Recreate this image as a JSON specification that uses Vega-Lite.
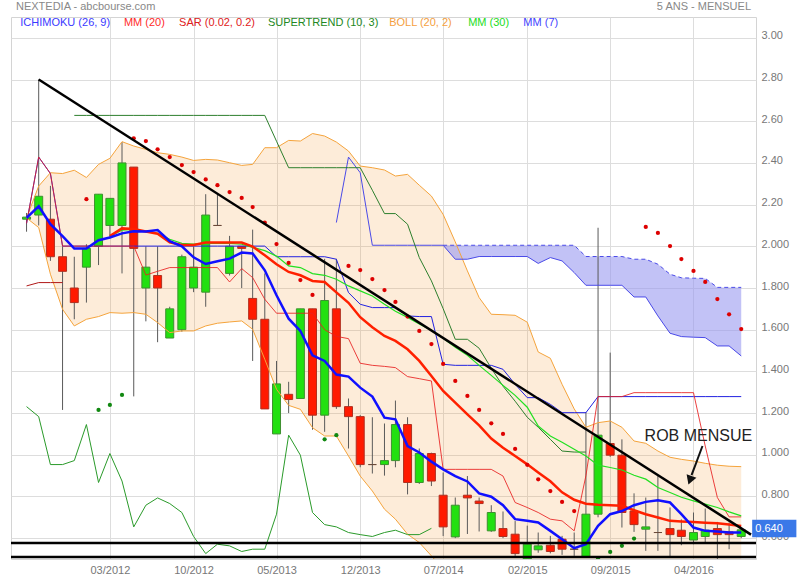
{
"$schema": "https://vega.github.io/schema/vega-lite/v6.json",
"width": 745, "height": 542,
"autosize": {"type": "none"},
"padding": {"left": 11, "top": 17, "right": 44, "bottom": 21},
"background": "white",
"config": {"font": "Liberation Sans", "view": {"stroke": "#d4d4d4", "strokeWidth": 1}},
"datasets": {
"m": [
{"d":"2011-08-01","o":2.13,"h":2.16,"l":2.07,"c":2.14,"bu":2.136,"bl":2.136,"m7":2.136,"tk":2.11,"kj":2.11,"ck":1.231,"s1":1.81},
{"d":"2011-09-01","o":2.15,"h":2.80,"l":2.10,"c":2.24,"bu":2.289,"bl":2.09,"m7":2.192,"tk":2.428,"kj":2.428,"ck":1.183,"s1":1.826},
{"d":"2011-10-01","o":2.13,"h":2.29,"l":1.93,"c":1.95,"bu":2.353,"bl":1.866,"m7":2.106,"tk":2.349,"kj":2.349,"ck":0.953,"s1":1.826},
{"d":"2011-11-01","o":1.95,"h":2.00,"l":1.215,"c":1.88,"bu":2.349,"bl":1.698,"m7":2.049,"tk":2.001,"kj":2.001,"ck":0.953,"s1":1.826},
{"d":"2011-12-01","o":1.80,"h":1.95,"l":1.65,"c":1.73,"bu":2.365,"bl":1.618,"m7":1.989,"tk":2.001,"kj":2.001,"ck":0.972,"s2":2.628},
{"d":"2012-01-01","o":1.90,"h":2.01,"l":1.73,"c":1.99,"bu":2.33,"bl":1.65,"m7":1.989,"tk":2.001,"kj":2.001,"ck":1.145,"s2":2.628,"sr":2.226},
{"d":"2012-02-01","o":2.00,"h":2.25,"l":1.91,"c":2.25,"bu":2.393,"bl":1.663,"m7":2.029,"tk":2.001,"kj":2.001,"ck":0.867,"s2":2.628,"sg":1.215},
{"d":"2012-03-01","o":2.10,"h":2.23,"l":2.04,"c":2.23,"bu":2.422,"bl":1.682,"m7":2.042,"m20":2.049,"m30":2.049,"tk":2.001,"kj":2.001,"ck":1.006,"s2":2.628,"sg":1.239},
{"d":"2012-04-01","o":2.10,"h":2.50,"l":1.87,"c":2.40,"bu":2.502,"bl":1.679,"m7":2.062,"m20":2.086,"m30":2.077,"tk":2.001,"kj":2.001,"ck":0.874,"s2":2.628,"sg":1.287},
{"d":"2012-05-01","o":2.38,"h":2.38,"l":1.28,"c":1.99,"bu":2.481,"bl":1.682,"m7":2.072,"m20":2.083,"m30":2.081,"tk":2.001,"kj":2.001,"ck":0.654,"s2":2.628,"sr":2.518},
{"d":"2012-06-01","o":1.80,"h":2.00,"l":1.64,"c":1.90,"bu":2.465,"bl":1.674,"m7":2.071,"m20":2.071,"m30":2.072,"tk":1.862,"kj":2.001,"ck":0.758,"s2":2.628,"sr":2.505},
{"d":"2012-07-01","o":1.86,"h":2.00,"l":1.54,"c":1.80,"bu":2.449,"bl":1.634,"m7":2.078,"m20":2.06,"m30":2.062,"tk":1.88,"kj":2.001,"ck":0.793,"s2":2.628,"sr":2.465},
{"d":"2012-08-01","o":1.56,"h":1.71,"l":1.56,"c":1.70,"bu":2.441,"bl":1.586,"m7":2.025,"m20":2.019,"m30":2.034,"tk":1.898,"kj":2.001,"ck":0.766,"s2":2.628,"sr":2.428},
{"d":"2012-09-01","o":1.60,"h":1.96,"l":1.59,"c":1.95,"bu":2.428,"bl":1.594,"m7":2.0,"m20":2.006,"m30":2.014,"tk":1.898,"kj":2.001,"ck":0.723,"s2":2.628,"sr":2.39},
{"d":"2012-10-01","o":1.80,"h":2.00,"l":1.78,"c":1.90,"bu":2.412,"bl":1.594,"m7":1.947,"m20":2.006,"m30":2.01,"tk":1.898,"kj":2.001,"ck":0.608,"s2":2.628,"sr":2.356},
{"d":"2012-11-01","o":1.78,"h":2.25,"l":1.71,"c":2.15,"bu":2.417,"bl":1.618,"m7":1.915,"m20":2.018,"m30":2.014,"tk":1.898,"kj":2.001,"ck":0.526,"s2":2.628,"sr":2.321},
{"d":"2012-12-01","o":2.10,"h":2.25,"l":2.10,"c":2.10,"bu":2.414,"bl":1.631,"m7":1.928,"m20":2.018,"m30":2.014,"tk":1.898,"kj":2.001,"ck":0.571,"s2":2.628,"sr":2.293},
{"d":"2013-01-01","o":1.87,"h":2.05,"l":1.86,"c":2.00,"bu":2.401,"bl":1.637,"m7":1.941,"m20":2.018,"m30":2.014,"tk":1.829,"kj":2.001,"ck":0.563,"s2":2.628,"sr":2.26},
{"d":"2013-02-01","o":2.00,"h":2.00,"l":1.80,"c":1.99,"bu":2.388,"bl":1.642,"m7":1.97,"m20":2.018,"m30":2.01,"tk":1.893,"kj":2.001,"ck":0.536,"s2":2.628,"sr":2.232},
{"d":"2013-03-01","o":1.75,"h":2.08,"l":1.45,"c":1.65,"bu":2.393,"bl":1.602,"m7":1.966,"m20":1.999,"m30":1.995,"tk":1.85,"kj":2.001,"ck":0.547,"s2":2.628,"sr":2.188},
{"d":"2013-04-01","o":1.65,"h":1.87,"l":1.22,"c":1.22,"bu":2.473,"bl":1.458,"m7":1.885,"m20":1.957,"m30":1.979,"tk":1.746,"kj":2.001,"ck":0.547,"s2":2.628,"sr":2.114},
{"d":"2013-05-01","o":1.10,"h":1.45,"l":1.10,"c":1.34,"bu":2.473,"bl":1.314,"m7":1.765,"m20":1.914,"m30":1.953,"tk":1.679,"kj":1.95,"ck":0.715,"s2":2.504,"sr":2.011},
{"d":"2013-06-01","o":1.29,"h":1.35,"l":1.20,"c":1.265,"bu":2.508,"bl":1.237,"m7":1.653,"m20":1.877,"m30":1.906,"tk":1.679,"kj":1.95,"ck":1.094,"s2":2.377,"sr":1.92},
{"d":"2013-07-01","o":1.27,"h":1.70,"l":1.27,"c":1.70,"bu":2.505,"bl":1.218,"m7":1.594,"m20":1.861,"m30":1.898,"tk":1.679,"kj":1.95,"ck":0.998,"s2":2.377,"sr":1.838},
{"d":"2013-08-01","o":1.70,"h":1.70,"l":1.12,"c":1.19,"bu":2.541,"bl":1.13,"m7":1.477,"m20":1.834,"m30":1.869,"tk":1.679,"kj":1.95,"ck":0.723,"s2":2.377,"sr":1.767},
{"d":"2013-09-01","o":1.19,"h":1.94,"l":1.11,"c":1.74,"bu":2.529,"bl":1.09,"m7":1.45,"m20":1.829,"m30":1.861,"tk":1.60,"kj":1.95,"ck":0.665,"s2":2.377,"sg":1.074},
{"d":"2013-10-01","o":1.70,"h":1.94,"l":1.22,"c":1.231,"bu":2.5,"bl":1.09,"m7":1.385,"m20":1.779,"m30":1.842,"tk":1.568,"kj":1.938,"ck":0.654,"sb":2.114,"s2":2.377,"sg":1.094},
{"d":"2013-11-01","o":1.231,"h":1.27,"l":1.03,"c":1.183,"bu":2.457,"bl":0.994,"m7":1.375,"m20":1.729,"m30":1.81,"tk":1.557,"kj":1.778,"ck":0.627,"sb":2.428,"s2":2.377,"sr":1.906},
{"d":"2013-12-01","o":1.183,"h":1.19,"l":0.94,"c":0.953,"bu":2.385,"bl":0.898,"m7":1.322,"m20":1.66,"m30":1.786,"tk":1.439,"kj":1.722,"ck":0.617,"sb":2.353,"s2":2.377,"sr":1.886},
{"d":"2014-01-01","o":0.953,"h":1.18,"l":0.91,"c":0.953,"bu":2.377,"bl":0.826,"m7":1.279,"m20":1.612,"m30":1.762,"tk":1.429,"kj":1.706,"ck":0.608,"sb":2.005,"s2":2.269,"sr":1.843},
{"d":"2014-02-01","o":0.953,"h":1.15,"l":0.90,"c":0.972,"bu":2.366,"bl":0.739,"m7":1.178,"m20":1.57,"m30":1.722,"tk":1.424,"kj":1.706,"ck":0.627,"sb":2.005,"s2":2.157,"sr":1.79},
{"d":"2014-03-01","o":0.972,"h":1.26,"l":0.94,"c":1.145,"bu":2.337,"bl":0.691,"m7":1.17,"m20":1.546,"m30":1.688,"tk":1.418,"kj":1.706,"ck":0.638,"sb":2.005,"s2":2.157,"sr":1.733},
{"d":"2014-04-01","o":1.145,"h":1.18,"l":0.81,"c":0.867,"bu":2.345,"bl":0.619,"m7":1.042,"m20":1.506,"m30":1.659,"tk":1.375,"kj":1.666,"ck":0.617,"sb":2.005,"s2":2.106,"sr":1.663},
{"d":"2014-05-01","o":0.867,"h":1.03,"l":0.86,"c":1.006,"bu":2.293,"bl":0.579,"m7":1.011,"m20":1.45,"m30":1.628,"tk":1.365,"kj":1.663,"ck":0.617,"sb":2.005,"s2":1.946,"sr":1.594},
{"d":"2014-06-01","o":1.006,"h":1.01,"l":0.85,"c":0.874,"bu":2.241,"bl":0.515,"m7":0.967,"m20":1.378,"m30":1.597,"tk":1.354,"kj":1.663,"ck":0.647,"sb":2.005,"s2":1.834,"sr":1.531},
{"d":"2014-07-01","o":0.806,"h":0.915,"l":0.61,"c":0.654,"bu":2.153,"bl":0.451,"m7":0.93,"m20":1.306,"m30":1.559,"tk":0.93,"kj":1.434,"sa":2.005,"sb":2.005,"s2":1.701,"sr":1.436},
{"d":"2014-08-01","o":0.606,"h":0.795,"l":0.60,"c":0.758,"bu":2.021,"bl":0.40,"m7":0.898,"m20":1.25,"m30":1.516,"tk":0.93,"kj":1.429,"sa":2.005,"sb":1.938,"s2":1.554,"sr":1.354},
{"d":"2014-09-01","o":0.806,"h":0.898,"l":0.62,"c":0.793,"bu":1.882,"bl":0.36,"m7":0.872,"m20":1.194,"m30":1.477,"tk":0.93,"kj":1.429,"sa":2.005,"sb":1.938,"s2":1.554,"sr":1.282},
{"d":"2014-10-01","o":0.778,"h":0.795,"l":0.632,"c":0.766,"bu":1.754,"bl":0.33,"m7":0.815,"m20":1.141,"m30":1.429,"tk":0.93,"kj":1.429,"sa":2.005,"sb":1.951,"s2":1.511,"sr":1.215},
{"d":"2014-11-01","o":0.635,"h":0.758,"l":0.63,"c":0.723,"bu":1.674,"bl":0.31,"m7":0.799,"m20":1.078,"m30":1.381,"tk":0.93,"kj":1.429,"sa":2.005,"sb":1.951,"s2":1.415,"sr":1.151},
{"d":"2014-12-01","o":0.646,"h":0.728,"l":0.60,"c":0.608,"bu":1.672,"bl":0.30,"m7":0.758,"m20":1.034,"m30":1.333,"tk":0.898,"kj":1.41,"sa":2.005,"sb":1.951,"s2":1.329,"sr":1.10},
{"d":"2015-01-01","o":0.619,"h":0.682,"l":0.515,"c":0.526,"bu":1.669,"bl":0.30,"m7":0.691,"m20":0.994,"m30":1.285,"tk":0.771,"kj":1.338,"sa":2.005,"sb":1.951,"s2":1.257,"sr":1.028},
{"d":"2015-02-01","o":0.50,"h":0.66,"l":0.50,"c":0.571,"bu":1.636,"bl":0.30,"m7":0.683,"m20":0.954,"m30":1.228,"tk":0.747,"kj":1.274,"sa":2.005,"sb":1.951,"s2":1.18,"sr":0.952},
{"d":"2015-03-01","o":0.544,"h":0.627,"l":0.53,"c":0.563,"bu":1.493,"bl":0.30,"m7":0.675,"m20":0.915,"m30":1.138,"tk":0.723,"kj":1.274,"sa":2.005,"sb":1.918,"s2":1.132,"sr":0.882},
{"d":"2015-04-01","o":0.566,"h":0.611,"l":0.527,"c":0.536,"bu":1.463,"bl":0.30,"m7":0.635,"m20":0.873,"m30":1.09,"tk":0.691,"kj":1.242,"sa":2.005,"sb":1.946,"s2":1.074,"sr":0.826},
{"d":"2015-05-01","o":0.595,"h":0.611,"l":0.52,"c":0.547,"bu":1.338,"bl":0.30,"m7":0.595,"m20":0.82,"m30":1.06,"tk":0.683,"kj":1.202,"sa":2.005,"sb":1.93,"s2":1.018,"sr":0.774},
{"d":"2015-06-01","o":0.547,"h":0.627,"l":0.515,"c":0.547,"bu":1.22,"bl":0.30,"m7":0.552,"m20":0.784,"m30":1.026,"tk":0.635,"kj":1.202,"sa":2.005,"sb":1.874,"s2":1.013,"sr":0.73},
{"d":"2015-07-01","o":0.512,"h":1.205,"l":0.51,"c":0.715,"bu":1.132,"bl":0.30,"m7":0.571,"m20":0.765,"m30":0.994,"tk":0.90,"kj":1.202,"sa":1.951,"sb":1.813,"s2":1.013},
{"d":"2015-08-01","o":0.715,"h":2.089,"l":0.70,"c":1.094,"bu":1.154,"bl":0.30,"m7":0.659,"m20":0.76,"m30":0.95,"tk":1.279,"kj":1.279,"sa":1.951,"sb":1.813,"sg":0.502},
{"d":"2015-09-01","o":1.054,"h":1.49,"l":0.99,"c":0.998,"bu":1.162,"bl":0.30,"m7":0.715,"m20":0.758,"m30":0.939,"tk":1.279,"kj":1.279,"sa":1.951,"sb":1.813,"sg":0.534},
{"d":"2015-10-01","o":0.998,"h":1.074,"l":0.651,"c":0.723,"bu":1.132,"bl":0.30,"m7":0.73,"m20":0.755,"m30":0.927,"tk":1.279,"kj":1.279,"sa":1.951,"sb":1.813,"sg":0.563},
{"d":"2015-11-01","o":0.73,"h":0.815,"l":0.63,"c":0.665,"bu":1.066,"bl":0.30,"m7":0.758,"m20":0.734,"m30":0.902,"tk":1.298,"kj":1.279,"sa":1.938,"sb":1.757,"sg":0.598},
{"d":"2015-12-01","o":0.643,"h":0.795,"l":0.539,"c":0.654,"bu":1.055,"bl":0.30,"m7":0.774,"m20":0.715,"m30":0.883,"tk":1.298,"kj":1.279,"sa":1.938,"sb":1.757,"sr":2.093},
{"d":"2016-01-01","o":0.627,"h":0.898,"l":0.539,"c":0.627,"bu":1.018,"bl":0.30,"m7":0.782,"m20":0.699,"m30":0.843,"tk":1.298,"kj":1.279,"sa":1.914,"sb":1.666,"sr":2.064},
{"d":"2016-02-01","o":0.646,"h":0.747,"l":0.512,"c":0.617,"bu":0.988,"bl":0.30,"m7":0.771,"m20":0.683,"m30":0.819,"tk":1.298,"kj":1.279,"sa":1.866,"sb":1.583,"sr":2.001},
{"d":"2016-03-01","o":0.638,"h":0.69,"l":0.566,"c":0.608,"bu":0.978,"bl":0.30,"m7":0.715,"m20":0.68,"m30":0.796,"tk":1.298,"kj":1.279,"sa":1.849,"sb":1.567,"sr":1.939},
{"d":"2016-04-01","o":0.591,"h":0.723,"l":0.571,"c":0.627,"bu":0.97,"bl":0.30,"m7":0.651,"m20":0.678,"m30":0.779,"tk":1.298,"kj":1.279,"sa":1.847,"sb":1.564,"sr":1.882},
{"d":"2016-05-01","o":0.608,"h":0.742,"l":0.58,"c":0.638,"bu":0.959,"bl":0.30,"m7":0.635,"m20":0.674,"m30":0.763,"tk":1.042,"kj":1.279,"sa":1.846,"sb":1.562,"sr":1.829},
{"d":"2016-06-01","o":0.646,"h":0.678,"l":0.50,"c":0.617,"bu":0.95,"bl":0.30,"m7":0.632,"m20":0.671,"m30":0.747,"tk":0.795,"kj":1.279,"sa":1.803,"sb":1.522,"sr":1.747},
{"d":"2016-07-01","o":0.63,"h":0.675,"l":0.547,"c":0.617,"bu":0.945,"bl":0.30,"m7":0.627,"m20":0.665,"m30":0.726,"tk":0.702,"kj":1.279,"sa":1.803,"sb":1.522,"sr":1.674},
{"d":"2016-08-01","o":0.608,"h":0.65,"l":0.60,"c":0.64,"bu":0.943,"bl":0.30,"m7":0.627,"m20":0.658,"m30":0.707,"tk":0.702,"kj":1.279,"sa":1.803,"sb":1.474,"sr":1.603}
],
"trend": [{"d":"2011-09-01","v":2.80},{"d":"2016-08-26","v":0.617}],
"levels": [{"v":0.577},{"v":0.51}],
"arrow": [{"d":"2016-04-24","v":1.042},{"d":"2016-03-27","v":0.902}],
"legend": [
{"d":"2011-07-16","v":3.07,"t":"ICHIMOKU (26, 9)"},
{"d":"2012-04-06","v":3.07,"t":"MM (20)"},
{"d":"2012-08-25","v":3.07,"t":"SAR (0.02, 0.2)"},
{"d":"2013-04-09","v":3.07,"t":"SUPERTREND (10, 3)"},
{"d":"2014-02-13","v":3.07,"t":"BOLL (20, 2)"},
{"d":"2014-09-03","v":3.07,"t":"MM (30)"},
{"d":"2015-01-22","v":3.07,"t":"MM (7)"}
]
},
"data": {"name": "m"},
"layer": [
{"mark": {"type": "area", "color": "#f5a040", "opacity": 0.2, "clip": true},
 "encoding": {
  "x": {"field": "d", "type": "temporal", "title": null,
   "scale": {"type": "utc", "domain": [{"year":2011,"month":7,"date":5,"utc":true},{"year":2016,"month":8,"date":26,"utc":true}]},
   "axis": {"title": null, "values": [{"year":2012,"month":3,"date":1,"utc":true},{"year":2012,"month":10,"date":1,"utc":true},{"year":2013,"month":5,"date":1,"utc":true},{"year":2013,"month":12,"date":1,"utc":true},{"year":2014,"month":7,"date":1,"utc":true},{"year":2015,"month":2,"date":1,"utc":true},{"year":2015,"month":9,"date":1,"utc":true},{"year":2016,"month":4,"date":1,"utc":true}],
    "labelExpr": "utcFormat(datum.value, '%m/%Y')", "ticks": false, "domain": false, "labelColor": "#777", "labelFontSize": 11, "labelPadding": 5, "gridColor": "#dddddd", "labelFlush": false, "labelOverlap": false}},
  "y": {"field": "bu", "type": "quantitative", "title": null,
   "scale": {"domain": [0.5, 3.1], "nice": false, "zero": false},
   "axis": {"orient": "right", "title": null, "values": [0.6,0.8,1,1.2,1.4,1.6,1.8,2,2.2,2.4,2.6,2.8,3],
    "labelExpr": "datum.value > 2.1 ? format(datum.value, '.2f') : format(datum.value, '.3f')",
    "ticks": false, "domain": false, "labelColor": "#777", "labelFontSize": 11, "labelPadding": 5, "gridColor": "#dddddd", "labelOffset": -2, "labelFlush": false}},
  "y2": {"field": "bl"}}},
{"transform": [{"filter": "isValid(datum.sa)"}],
 "mark": {"type": "area", "color": "#9a9af0", "opacity": 0.6},
 "encoding": {"x": {"field": "d", "type": "temporal", "title": null}, "y": {"field": "sa", "type": "quantitative", "title": null}, "y2": {"field": "sb"}}},
{"mark": {"type": "rule", "color": "#5a5a5a", "strokeWidth": 1, "clip": true},
 "encoding": {"x": {"field": "d", "type": "temporal", "title": null}, "y": {"field": "l", "type": "quantitative", "title": null}, "y2": {"field": "h"}}},
{"mark": {"type": "bar", "size": 8, "strokeWidth": 1, "clip": true},
 "encoding": {"x": {"field": "d", "type": "temporal", "title": null}, "y": {"field": "o", "type": "quantitative", "title": null}, "y2": {"field": "c"},
  "fill": {"condition": {"test": "datum.c > datum.o", "value": "#22e010"}, "value": "#ff1a00"},
  "stroke": {"condition": [{"test": "datum.c == datum.o", "value": "#6a4a3a"}, {"test": "datum.c > datum.o", "value": "#3e9030"}], "value": "#b03020"}}},
{"mark": {"type": "line", "color": "#f5a43c", "strokeWidth": 1, "clip": true},
 "encoding": {"x": {"field": "d", "type": "temporal", "title": null}, "y": {"field": "bu", "type": "quantitative", "title": null}}},
{"mark": {"type": "line", "color": "#f5a43c", "strokeWidth": 1, "clip": true},
 "encoding": {"x": {"field": "d", "type": "temporal", "title": null}, "y": {"field": "bl", "type": "quantitative", "title": null}}},
{"transform": [{"filter": "isValid(datum.sb)"}],
 "mark": {"type": "line", "color": "#4a4ae8", "strokeWidth": 1},
 "encoding": {"x": {"field": "d", "type": "temporal", "title": null}, "y": {"field": "sb", "type": "quantitative", "title": null}}},
{"transform": [{"filter": "isValid(datum.sa)"}],
 "mark": {"type": "line", "color": "#4a4ae8", "strokeWidth": 1, "strokeDash": [4, 3]},
 "encoding": {"x": {"field": "d", "type": "temporal", "title": null}, "y": {"field": "sa", "type": "quantitative", "title": null}}},
{"transform": [{"filter": "isValid(datum.ck)"}],
 "mark": {"type": "line", "color": "#2a9a2a", "strokeWidth": 1},
 "encoding": {"x": {"field": "d", "type": "temporal", "title": null}, "y": {"field": "ck", "type": "quantitative", "title": null}}},
{"transform": [{"filter": "isValid(datum.s1)"}],
 "mark": {"type": "line", "color": "#b01818", "strokeWidth": 1},
 "encoding": {"x": {"field": "d", "type": "temporal", "title": null}, "y": {"field": "s1", "type": "quantitative", "title": null}}},
{"transform": [{"filter": "isValid(datum.s2)"}],
 "mark": {"type": "line", "color": "#2d7f2d", "strokeWidth": 1},
 "encoding": {"x": {"field": "d", "type": "temporal", "title": null}, "y": {"field": "s2", "type": "quantitative", "title": null}}},
{"transform": [{"filter": "isValid(datum.kj)"}],
 "mark": {"type": "line", "color": "#2222e0", "strokeWidth": 1},
 "encoding": {"x": {"field": "d", "type": "temporal", "title": null}, "y": {"field": "kj", "type": "quantitative", "title": null}}},
{"transform": [{"filter": "isValid(datum.tk)"}],
 "mark": {"type": "line", "color": "#e82020", "strokeWidth": 1, "opacity": 0.85},
 "encoding": {"x": {"field": "d", "type": "temporal", "title": null}, "y": {"field": "tk", "type": "quantitative", "title": null}}},
{"transform": [{"filter": "isValid(datum.m30)"}],
 "mark": {"type": "line", "color": "#22e022", "strokeWidth": 1.2},
 "encoding": {"x": {"field": "d", "type": "temporal", "title": null}, "y": {"field": "m30", "type": "quantitative", "title": null}}},
{"transform": [{"filter": "isValid(datum.m20)"}],
 "mark": {"type": "line", "color": "#ff2000", "strokeWidth": 2.5},
 "encoding": {"x": {"field": "d", "type": "temporal", "title": null}, "y": {"field": "m20", "type": "quantitative", "title": null}}},
{"transform": [{"filter": "isValid(datum.m7)"}],
 "mark": {"type": "line", "color": "#1010ff", "strokeWidth": 2.5},
 "encoding": {"x": {"field": "d", "type": "temporal", "title": null}, "y": {"field": "m7", "type": "quantitative", "title": null}}},
{"transform": [{"filter": "isValid(datum.sr)"}],
 "mark": {"type": "circle", "color": "#dd0000", "size": 18, "opacity": 1},
 "encoding": {"x": {"field": "d", "type": "temporal", "title": null}, "y": {"field": "sr", "type": "quantitative", "title": null}}},
{"transform": [{"filter": "isValid(datum.sg)"}],
 "mark": {"type": "circle", "color": "#118811", "size": 18, "opacity": 1, "clip": true},
 "encoding": {"x": {"field": "d", "type": "temporal", "title": null}, "y": {"field": "sg", "type": "quantitative", "title": null}}},
{"data": {"name": "trend"},
 "mark": {"type": "line", "color": "black", "strokeWidth": 2.5, "clip": true},
 "encoding": {"x": {"field": "d", "type": "temporal", "title": null}, "y": {"field": "v", "type": "quantitative", "title": null}}},
{"data": {"name": "levels"},
 "mark": {"type": "rule", "color": "black", "strokeWidth": 2.5},
 "encoding": {"y": {"field": "v", "type": "quantitative", "title": null}}},
{"data": {"name": "arrow"},
 "mark": {"type": "line", "color": "#111", "strokeWidth": 2},
 "encoding": {"x": {"field": "d", "type": "temporal", "title": null}, "y": {"field": "v", "type": "quantitative", "title": null}}},
{"data": {"values": [{"d": "2016-03-23", "v": 0.878}]},
 "mark": {"type": "point", "shape": "triangle-down", "filled": true, "color": "#111", "size": 110, "angle": 20, "opacity": 1},
 "encoding": {"x": {"field": "d", "type": "temporal", "title": null}, "y": {"field": "v", "type": "quantitative", "title": null}}},
{"data": {"values": [{"d": "2015-11-28", "v": 1.089, "t": "ROB MENSUE"}]},
 "mark": {"type": "text", "align": "left", "baseline": "middle", "fontSize": 16, "color": "#222"},
 "encoding": {"x": {"field": "d", "type": "temporal", "title": null}, "y": {"field": "v", "type": "quantitative", "title": null}, "text": {"field": "t"}}},
{"data": {"name": "legend"},
 "mark": {"type": "text", "align": "left", "baseline": "middle", "fontSize": 11},
 "encoding": {"x": {"field": "d", "type": "temporal", "title": null}, "y": {"field": "v", "type": "quantitative", "title": null}, "text": {"field": "t"},
  "color": {"field": "t", "type": "nominal", "legend": null,
   "scale": {"domain": ["ICHIMOKU (26, 9)", "MM (20)", "SAR (0.02, 0.2)", "SUPERTREND (10, 3)", "BOLL (20, 2)", "MM (30)", "MM (7)"],
    "range": ["#3a3aff", "#ff2a2a", "#e02020", "#228822", "#f5a040", "#22dd22", "#4444ff"]}}}},
{"data": {"values": [{"d": "2011-07-05", "v": 3.146, "t": "NEXTEDIA - abcbourse.com"}]},
 "mark": {"type": "text", "align": "left", "baseline": "middle", "fontSize": 11, "color": "#888"},
 "encoding": {"x": {"field": "d", "type": "temporal", "title": null}, "y": {"field": "v", "type": "quantitative", "title": null}, "text": {"field": "t"}}},
{"data": {"values": [{"d": "2016-08-26", "v": 3.146, "t": "5 ANS - MENSUEL"}]},
 "mark": {"type": "text", "align": "right", "baseline": "middle", "fontSize": 11, "color": "#888"},
 "encoding": {"x": {"field": "d", "type": "temporal", "title": null}, "y": {"field": "v", "type": "quantitative", "title": null}, "text": {"field": "t"}}},
{"data": {"values": [{"d": "2016-08-29", "d2": "2016-12-20", "v": 0.604, "v2": 0.688}]},
 "mark": {"type": "rect", "color": "#3a78e8"},
 "encoding": {"x": {"field": "d", "type": "temporal", "title": null}, "x2": {"field": "d2"}, "y": {"field": "v", "type": "quantitative", "title": null}, "y2": {"field": "v2"}}},
{"data": {"values": [{"d": "2016-09-06", "v": 0.645, "t": "0.640"}]},
 "mark": {"type": "text", "align": "left", "baseline": "middle", "fontSize": 11, "color": "white"},
 "encoding": {"x": {"field": "d", "type": "temporal", "title": null}, "y": {"field": "v", "type": "quantitative", "title": null}, "text": {"field": "t"}}}
]
}
